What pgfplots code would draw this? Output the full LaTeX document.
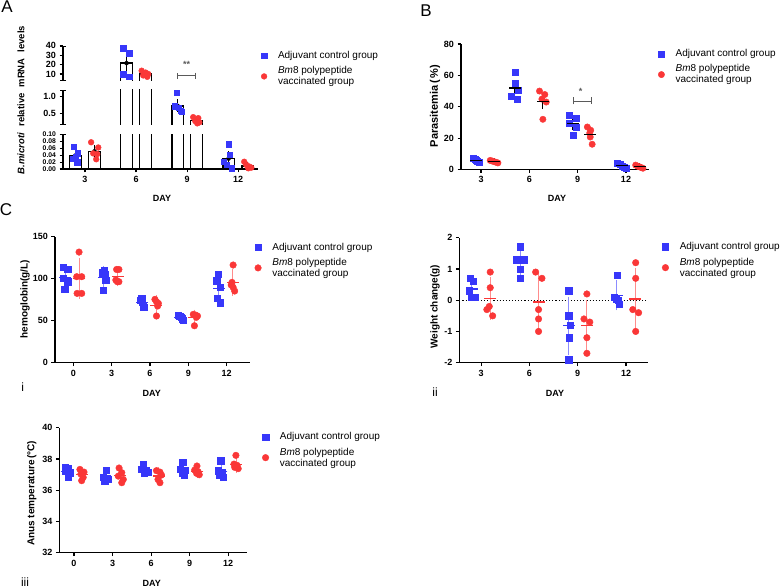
\documentclass[border=0pt]{standalone}
\usepackage{pgfplots}
\pgfplotsset{compat=1.18}
\usepackage{fontspec}
\setmainfont{Liberation Sans}
\usetikzlibrary{arrows.meta}
\definecolor{cb}{RGB}{55,55,250}
\definecolor{cr}{RGB}{250,55,55}
\definecolor{cbl}{RGB}{140,140,255}
\definecolor{crl}{RGB}{255,140,140}
\definecolor{sig}{RGB}{90,90,90}
\pgfplotsset{
  base/.style={scale only axis, axis lines=left, enlargelimits=false, clip=true,
    axis line style={line width=1.1pt, black},
    x axis line style={-}, y axis line style={-},
    tick align=outside, major tick length=3.5pt,
    tick style={line width=1.1pt, black},
    tick label style={font=\bfseries\fontsize{9}{9.5}\selectfont},
    /pgf/number format/assume math mode=true,
    xtick={1,2,3,4}, xticklabels={3,6,9,12},
    legend style={draw=none, fill=none, font=\fontsize{10}{11}\selectfont, cells={anchor=west, align=left},
      row sep=2.5pt, /tikz/every odd column/.append style={column sep=9pt}},
    legend cell align=left},
  bsq/.style={only marks, mark=square*, mark size=3pt, color=cb},
  rci/.style={only marks, mark=*, mark size=3.2pt, color=cr},
  barb/.style={black, line width=1.4pt, unbounded coords=jump, forget plot},
  semA/.style={only marks, mark=none, forget plot, error bars/.cd, y dir=both, y explicit,
    error bar style={line width=1pt, black}, error mark options={line width=1pt, black, mark size=3pt}},
  meanK/.style={only marks, mark=-, mark size=6pt, mark options={line width=1.3pt, black}, forget plot,
    error bars/.cd, y dir=both, y explicit,
    error bar style={line width=0.9pt, black}, error mark options={line width=0.9pt, black, mark size=3pt}},
  meanC/.style 2 args={only marks, mark=-, mark size=6pt, mark options={line width=1.2pt, #1}, forget plot,
    error bars/.cd, y dir=both, y explicit,
    error bar style={line width=0.8pt, #2}, error mark options={line width=0.8pt, #2, mark size=3.5pt}},
}
\begin{document}
\begin{tikzpicture}
\useasboundingbox (0pt,0pt) rectangle (784pt,-588pt);

% ===================== Panel A =====================
% bottom segment
\begin{axis}[base, at={(63pt,-169pt)}, anchor=south west, width=195pt, height=34.7pt,
  xmin=0.569, xmax=4.39, ymin=0, ymax=0.1,
  ytick={0,0.02,0.04,0.06,0.08,0.1}, yticklabels={0.00,0.02,0.04,0.06,0.08,0.10},
  yticklabel style={font=\bfseries\fontsize{6.8}{6.8}\selectfont},
  y axis line style={-{Bar[width=6pt]}}]
\addplot[barb] coordinates {(0.701,0) (0.701,0.039) (0.927,0.039) (0.927,0) (nan,nan)
  (1.701,0) (1.701,21.5) (1.927,21.5) (1.927,0) (nan,nan)
  (2.701,0) (2.701,0.726) (2.927,0.726) (2.927,0) (nan,nan)
  (3.701,0) (3.701,0.030) (3.927,0.030) (3.927,0)};
\addplot[barb] coordinates {(1.073,0) (1.073,0.051) (1.299,0.051) (1.299,0) (nan,nan)
  (2.073,0) (2.073,10.1) (2.299,10.1) (2.299,0) (nan,nan)
  (3.073,0) (3.073,0.28) (3.299,0.28) (3.299,0) (nan,nan)
  (4.073,0) (4.073,0.009) (4.299,0.009) (4.299,0)};
\addplot[semA] coordinates {(0.814,0.039) +- (0,0.0075) (3.814,0.030) +- (0,0.0125)
  (1.186,0.051) +- (0,0.0085) (4.186,0.009) +- (0,0.0036)};
\addplot[bsq, mark size=2.7pt, forget plot] coordinates {(0.78,0.064) (0.86,0.045) (0.82,0.036) (0.76,0.030) (0.85,0.020)
  (3.81,0.071) (3.84,0.042) (3.72,0.021) (3.78,0.013) (3.88,0.002)};
\addplot[rci, mark size=2.9pt, forget plot] coordinates {(1.12,0.077) (1.26,0.062) (1.16,0.045) (1.24,0.043) (1.22,0.028)
  (4.12,0.021) (4.16,0.012) (4.22,0.007) (4.26,0.004) (4.20,0.002)};
\end{axis}
% middle segment
\begin{axis}[base, at={(63pt,-125pt)}, anchor=south west, width=195pt, height=35pt,
  xmin=0.569, xmax=4.39, ymin=0.14, ymax=1.21, axis x line=none,
  ytick={0.5,1}, yticklabels={0.5,1.0},
  y axis line style={{Bar[width=6pt]}-{Bar[width=6pt]}}]
\addplot[barb] coordinates {(0.701,0) (0.701,0.039) (0.927,0.039) (0.927,0) (nan,nan)
  (1.701,0) (1.701,21.5) (1.927,21.5) (1.927,0) (nan,nan)
  (2.701,0) (2.701,0.726) (2.927,0.726) (2.927,0) (nan,nan)
  (3.701,0) (3.701,0.030) (3.927,0.030) (3.927,0)};
\addplot[barb] coordinates {(1.073,0) (1.073,0.051) (1.299,0.051) (1.299,0) (nan,nan)
  (2.073,0) (2.073,10.1) (2.299,10.1) (2.299,0) (nan,nan)
  (3.073,0) (3.073,0.28) (3.299,0.28) (3.299,0) (nan,nan)
  (4.073,0) (4.073,0.009) (4.299,0.009) (4.299,0)};
\addplot[semA] coordinates {(2.814,0.726) +- (0,0.103) (3.186,0.28) +- (0,0.037)};
\addplot[bsq, mark size=2.7pt, forget plot] coordinates {(2.80,1.12) (2.76,0.72) (2.84,0.66) (2.88,0.58) (2.90,0.55)};
\addplot[rci, mark size=2.9pt, forget plot] coordinates {(3.12,0.38) (3.22,0.35) (3.16,0.26) (3.24,0.22) (3.20,0.19)};
\end{axis}
% top segment
\begin{axis}[base, at={(63pt,-80.7pt)}, anchor=south west, width=195pt, height=35pt,
  xmin=0.569, xmax=4.39, ymin=2.9, ymax=40, axis x line=none,
  ytick={10,20,30,40},
  y axis line style={{Bar[width=6pt]}-{Bar[width=6pt]}},
  legend style={at={(1.0,0.96)}, anchor=north west}]
\addplot[barb] coordinates {(0.701,0) (0.701,0.039) (0.927,0.039) (0.927,0) (nan,nan)
  (1.701,0) (1.701,21.5) (1.927,21.5) (1.927,0) (nan,nan)
  (2.701,0) (2.701,0.726) (2.927,0.726) (2.927,0) (nan,nan)
  (3.701,0) (3.701,0.030) (3.927,0.030) (3.927,0)};
\addplot[barb] coordinates {(1.073,0) (1.073,0.051) (1.299,0.051) (1.299,0) (nan,nan)
  (2.073,0) (2.073,10.1) (2.299,10.1) (2.299,0) (nan,nan)
  (3.073,0) (3.073,0.28) (3.299,0.28) (3.299,0) (nan,nan)
  (4.073,0) (4.073,0.009) (4.299,0.009) (4.299,0)};
\addplot[semA] coordinates {(1.814,21.5) +- (0,7.6) (2.186,10.1) +- (0,1.13)};
\addplot[bsq, mark size=2.7pt] coordinates {(1.75,37.2) (1.87,31.9) (1.75,9.6) (1.87,7.2)};
\addlegendentry{Adjuvant control group}
\addplot[rci, mark size=2.9pt] coordinates {(2.11,13.5) (2.19,11.5) (2.24,10) (2.14,8.5) (2.22,7)};
\addlegendentry{\textit{Bm}8 polypeptide\\vaccinated group}
\addplot[sig, line width=0.9pt, {Bar[width=6pt]}-{Bar[width=6pt]}, forget plot] coordinates {(2.80,8.2) (3.18,8.2)};
\node[sig, font=\bfseries\fontsize{9}{9}\selectfont] at (axis cs:2.99,20) {**};
\end{axis}

% ===================== Panel B =====================
\begin{axis}[base, at={(461pt,-169.5pt)}, anchor=south west, width=188pt, height=125.5pt,
  xmin=0.586, xmax=4.476, ymin=0, ymax=80, ytick={0,20,40,60,80},
  legend style={at={(1.032,0.99)}, anchor=north west}]
\addplot[bsq] coordinates {(0.83,7.0) (0.87,6.5) (0.90,6.0) (0.93,5.2) (0.97,4.8)
  (1.70,62) (1.70,55) (1.76,50.8) (1.62,46.8) (1.75,44.7)
  (2.82,34.9) (2.97,33) (2.82,29.6) (2.97,26.7) (2.90,21.8)
  (3.82,4.2) (3.87,3.4) (3.92,2.3) (3.96,1.7) (4.00,1.1)};
\addlegendentry{Adjuvant control group}
\addplot[rci] coordinates {(1.19,5.8) (1.23,5.4) (1.27,5.0) (1.31,4.6) (1.35,4.2)
  (2.21,50) (2.32,47.8) (2.26,44.9) (2.35,43) (2.28,32)
  (3.20,27.1) (3.27,25) (3.25,23.3) (3.26,20.7) (3.30,16.1)
  (4.20,2.8) (4.24,2.1) (4.28,1.7) (4.31,1.3) (4.35,0.8)};
\addlegendentry{\textit{Bm}8 polypeptide\\vaccinated group}
\addplot[meanK] coordinates {(0.90,5.9) +- (0,0.41) (1.70,51.9) +- (0,3.1) (2.90,29.2) +- (0,2.3) (3.91,2.54) +- (0,0.56)};
\addplot[meanK] coordinates {(1.27,5.0) +- (0,0.28) (2.28,43.5) +- (0,3.1) (3.26,22.4) +- (0,1.9) (4.28,1.74) +- (0,0.34)};
\addplot[sig, line width=0.9pt, {Bar[width=7pt]}-{Bar[width=7pt]}, forget plot] coordinates {(2.90,43.7) (3.30,43.7)};
\node[sig, font=\bfseries\fontsize{9}{9}\selectfont] at (axis cs:3.06,49.5) {*};
\end{axis}

% ===================== Panel C i =====================
\begin{axis}[base, at={(55pt,-362.7pt)}, anchor=south west, width=195pt, height=126pt,
  xmin=-0.477, xmax=4.61, ymin=0, ymax=150, ytick={0,50,100,150},
  xtick={0,1,2,3,4}, xticklabels={0,3,6,9,12},
  legend style={at={(1.008,0.985)}, anchor=north west}]
\addplot[meanC={cb}{cbl}] coordinates {(-0.21,101.7) +- (0,10.8) (0.79,101.6) +- (0,9.5) (1.79,71.7) +- (0,4.4) (2.79,53.9) +- (0,2.4) (3.79,88.2) +- (0,14.2)};
\addplot[meanC={cr}{crl}] coordinates {(0.16,100.3) +- (0,20.2) (1.16,102.6) +- (0,7.7) (2.16,68.3) +- (0,7.7) (3.16,53.6) +- (0,5.5) (4.16,95.9) +- (0,12.0)};
\addplot[bsq, mark size=3.2pt] coordinates {(-0.26,113.5) (-0.15,111) (-0.26,100.4) (-0.15,96.4) (-0.22,87.3)
  (0.81,110.3) (0.76,107) (0.83,105.6) (0.85,98.4) (0.78,86.5)
  (1.78,76.6) (1.74,74.6) (1.80,72.6) (1.82,68.7) (1.84,65.9)
  (2.74,56.7) (2.78,55.6) (2.81,54) (2.84,52.4) (2.86,50.8)
  (3.78,105.6) (3.74,97.6) (3.84,89.7) (3.75,76.6) (3.84,71.4)};
\addlegendentry{Adjuvant control group}
\addplot[rci, mark size=3.3pt] coordinates {(0.15,131.7) (0.09,102.4) (0.22,102.4) (0.10,82.5) (0.22,82.5)
  (1.13,111) (1.19,111) (1.11,98.4) (1.19,96.4) (1.15,96.4)
  (2.13,75.4) (2.17,72.6) (2.22,70.6) (2.20,67.5) (2.17,55.6)
  (3.13,57.5) (3.19,56.7) (3.24,55.6) (3.21,54) (3.16,44)
  (4.17,116.3) (4.14,95.6) (4.12,92.5) (4.17,89.7) (4.21,85.3)};
\addlegendentry{\textit{Bm}8 polypeptide\\vaccinated group}
\end{axis}

% ===================== Panel C ii =====================
\begin{axis}[base, at={(459.3pt,-362.7pt)}, anchor=south west, width=188.7pt, height=125pt,
  xmin=0.55, xmax=4.455, ymin=-2, ymax=2, ytick={-2,-1,0,1,2},
  legend style={at={(1.058,0.995)}, anchor=north west}]
\addplot[black, line width=1.1pt, dotted, forget plot] coordinates {(0.55,0) (4.455,0)};
\addplot[meanC={cb}{cbl}] coordinates {(0.81,0.36) +- (0,0.27) (1.81,1.20) +- (0,0.38) (2.81,-0.82) +- (0,0.82) (3.81,0.16) +- (0,0.37)};
\addplot[meanC={cr}{crl}] coordinates {(1.19,0.06) +- (0,0.58) (2.19,-0.06) +- (0,0.83) (3.19,-0.80) +- (0,0.71) (4.19,0.04) +- (0,0.89)};
\addplot[bsq, mark size=3.2pt] coordinates {(0.77,0.7) (0.84,0.6) (0.75,0.3) (0.81,0.1) (0.88,0.1)
  (1.81,1.71) (1.74,1.29) (1.88,1.29) (1.81,1.0) (1.81,0.7)
  (2.81,0.3) (2.81,-0.5) (2.84,-0.8) (2.82,-1.2) (2.81,-1.9)
  (3.82,0.8) (3.75,0.1) (3.80,0.03) (3.84,0.0) (3.86,-0.12)};
\addlegendentry{Adjuvant control group}
\addplot[rci, mark size=3.3pt] coordinates {(1.19,0.9) (1.19,0.4) (1.17,-0.2) (1.12,-0.3) (1.24,-0.5)
  (2.13,0.9) (2.26,0.7) (2.19,-0.3) (2.19,-0.6) (2.19,-1.0)
  (3.19,0.2) (3.13,-0.6) (3.25,-0.7) (3.19,-1.2) (3.19,-1.7)
  (4.20,1.2) (4.20,0.7) (4.14,-0.3) (4.26,-0.4) (4.20,-1.0)};
\addlegendentry{\textit{Bm}8 polypeptide\\vaccinated group}
\end{axis}

% ===================== Panel C iii =====================
\begin{axis}[base, at={(59.3pt,-552.7pt)}, anchor=south west, width=187.4pt, height=125pt,
  xmin=-0.38, xmax=4.48, ymin=32, ymax=40, ytick={32,34,36,38,40},
  xtick={0,1,2,3,4}, xticklabels={0,3,6,9,12},
  legend style={at={(1.066,0.995)}, anchor=north west}]
\addplot[meanC={cb}{cbl}] coordinates {(-0.18,37.22) +- (0,0.24) (0.82,36.83) +- (0,0.27) (1.82,37.30) +- (0,0.20) (2.82,37.30) +- (0,0.31) (3.82,37.21) +- (0,0.41)};
\addplot[meanC={cr}{crl}] coordinates {(0.20,36.99) +- (0,0.28) (1.20,36.92) +- (0,0.37) (2.20,36.91) +- (0,0.32) (3.20,37.22) +- (0,0.22) (4.20,37.67) +- (0,0.33)};
\addplot[bsq, mark size=3.2pt] coordinates {(-0.23,37.46) (-0.15,37.4) (-0.21,37.25) (-0.10,37.12) (-0.15,36.86)
  (0.83,37.29) (0.76,36.82) (0.85,36.76) (0.89,36.69) (0.80,36.6)
  (1.80,37.63) (1.75,37.33) (1.87,37.25) (1.91,37.16) (1.82,37.12)
  (2.82,37.8) (2.75,37.33) (2.88,37.29) (2.82,37.12) (2.86,36.97)
  (3.81,37.89) (3.74,37.25) (3.85,37.12) (3.78,36.97) (3.87,36.82)};
\addlegendentry{Adjuvant control group}
\addplot[rci, mark size=3.3pt] coordinates {(0.155,37.33) (0.26,37.16) (0.18,37.03) (0.24,36.82) (0.20,36.61)
  (1.17,37.42) (1.24,37.12) (1.15,36.9) (1.28,36.69) (1.24,36.48)
  (2.14,37.25) (2.23,37.16) (2.27,36.97) (2.18,36.69) (2.23,36.48)
  (3.19,37.55) (3.13,37.29) (3.22,37.18) (3.18,37.08) (3.25,36.99)
  (4.20,38.23) (4.15,37.67) (4.23,37.59) (4.17,37.46) (4.26,37.38)};
\addlegendentry{\textit{Bm}8 polypeptide\\vaccinated group}
\end{axis}

% ===================== texts =====================
\begin{scope}[every node/.style={font=\bfseries\fontsize{10}{11}\selectfont}]
\node[rotate=90, font=\bfseries\fontsize{9.5}{10}\selectfont] at (21pt,-100pt) {\textit{B.microti}\hspace{6pt}relative\hspace{6pt}mRNA\hspace{6pt}levels};
\node[rotate=90, font=\bfseries\fontsize{11}{12}\selectfont] at (435pt,-106pt) {Parasitemia\,(\,\%)};
\node[rotate=90] at (25pt,-299pt) {hemoglobin(g/L)};
\node[rotate=90] at (435pt,-306.7pt) {Weight change(g)};
\node[rotate=90] at (31.7pt,-493.3pt) {Anus temperature\,(°C)};
\end{scope}
\begin{scope}[every node/.style={font=\bfseries\fontsize{9}{10}\selectfont}]
\node at (162pt,-198pt) {DAY};
\node at (557pt,-198pt) {DAY};
\node at (151.7pt,-393pt) {DAY};
\node at (555pt,-393pt) {DAY};
\node at (151.7pt,-583pt) {DAY};
\end{scope}
\begin{scope}[every node/.style={font=\fontsize{17}{18}\selectfont}]
\node at (7pt,-7pt) {A};
\node at (426pt,-10.7pt) {B};
\node at (6pt,-210pt) {C};
\end{scope}
\begin{scope}[every node/.style={font=\fontsize{12}{12}\selectfont}]
\node at (22.7pt,-386.7pt) {i};
\node at (435pt,-392pt) {ii};
\node at (25pt,-582pt) {iii};
\end{scope}
\end{tikzpicture}
\end{document}
